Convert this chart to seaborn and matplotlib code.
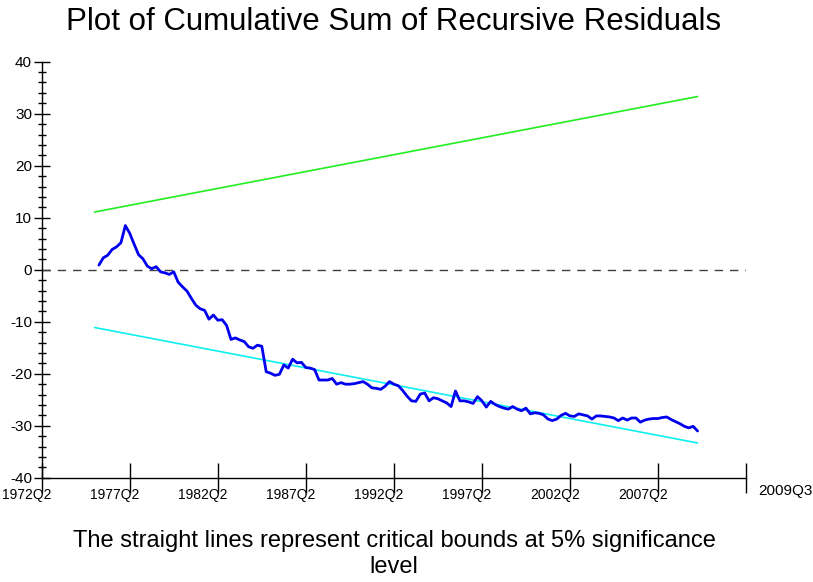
import matplotlib
matplotlib.use("Agg")
import matplotlib.pyplot as plt
import matplotlib.transforms as mtransforms
from matplotlib.ticker import MultipleLocator
import seaborn as sns
import pandas as pd

# -----------------------------
# Data (x = quarters counted from 1972Q2)
# -----------------------------
first_q = 13  # 1975Q3
last_q = 149  # 2009Q3
cusum = [
    0.9, 2.3, 2.8, 3.9, 4.4, 5.2, 8.5, 7.0, 4.9, 2.9,
    2.1, 0.7, 0.2, 0.6, -0.4, -0.6, -0.9, -0.4, -2.4, -3.3,
    -4.1, -5.5, -6.8, -7.5, -7.8, -9.5, -8.7, -9.7, -9.6, -10.7,
    -13.4, -13.1, -13.5, -13.8, -14.8, -15.1, -14.5, -14.7, -19.6, -19.9,
    -20.3, -20.1, -18.3, -18.9, -17.2, -17.9, -17.8, -18.8, -18.9, -19.2,
    -21.2, -21.2, -21.2, -20.9, -22.0, -21.7, -22.0, -22.0, -21.9, -21.7,
    -21.5, -22.0, -22.7, -22.8, -23.0, -22.4, -21.5, -22.0, -22.3, -23.2,
    -24.3, -25.2, -25.3, -23.9, -23.7, -25.2, -24.6, -24.8, -25.2, -25.6,
    -26.3, -23.3, -25.2, -25.2, -25.4, -25.7, -24.4, -25.2, -26.4, -25.3,
    -25.9, -26.3, -26.6, -26.8, -26.3, -26.8, -27.1, -26.6, -27.7, -27.5,
    -27.6, -27.9, -28.7, -29.0, -28.7, -28.0, -27.6, -28.1, -28.2, -27.7,
    -27.9, -28.1, -28.7, -28.1, -28.1, -28.2, -28.3, -28.5, -29.0, -28.5,
    -28.9, -28.5, -28.5, -29.3, -28.9, -28.7, -28.6, -28.6, -28.4, -28.3,
    -28.8, -29.2, -29.6, -30.1, -30.4, -30.1, -31.0,
]
bound_q = [12, 149]
upper_bound = [11.1, 33.3]
lower_bound = [-11.1, -33.3]

tick_pos = [0, 20, 40, 60, 80, 100, 120, 140, 160]
tick_labels = ["1972Q2", "1977Q2", "1982Q2", "1987Q2", "1992Q2",
               "1997Q2", "2002Q2", "2007Q2", ""]
end_label = "2009Q3"

df = pd.DataFrame({"q": list(range(first_q, last_q + 1)), "cusum": cusum})
df_b = pd.DataFrame({"q": bound_q, "upper": upper_bound, "lower": lower_bound})

# -----------------------------
# Plot
# -----------------------------
sns.set_style("white")
plt.rcParams["font.family"] = ["Liberation Sans", "DejaVu Sans"]
plt.rcParams["axes.unicode_minus"] = False
for key in ["text.color", "xtick.color", "ytick.color", "axes.labelcolor"]:
    plt.rcParams[key] = "black"

fig = plt.figure(figsize=(8.13, 5.82), dpi=100)
ax = fig.add_axes([0.0513, 0.179, 0.8663, 0.715])

ax.axhline(0, color="#404040", lw=1.0, dashes=(6, 5))
sns.lineplot(data=df_b, x="q", y="upper", color="#22EE22", lw=1.2, ax=ax)
sns.lineplot(data=df_b, x="q", y="lower", color="#11EEEE", lw=1.2, ax=ax)
sns.lineplot(data=df, x="q", y="cusum", color="#0000EE", lw=2.0, ax=ax)

ax.set_xlim(0, 160)
ax.set_ylim(-40, 40)
ax.set_xlabel("")
ax.set_ylabel("")

for s in ["top", "right"]:
    ax.spines[s].set_visible(False)
for s in ["left", "bottom"]:
    ax.spines[s].set_color("black")
    ax.spines[s].set_linewidth(1.0)

ax.yaxis.set_major_locator(MultipleLocator(10))
ax.yaxis.set_minor_locator(MultipleLocator(2))
ax.tick_params(axis="y", which="major", direction="inout", length=12,
               width=1, pad=1, labelsize=11, left=True)
ax.tick_params(axis="y", which="minor", direction="inout", length=6,
               width=1, left=True)

ax.set_xticks(tick_pos)
ax.set_xticklabels(tick_labels)
ax.tick_params(axis="x", which="major", direction="inout", length=21,
               width=1, pad=-3, labelsize=10, bottom=True)
for lab in ax.get_xticklabels():
    lab.set_transform(lab.get_transform()
                      + mtransforms.ScaledTranslation(-0.15, 0, fig.dpi_scale_trans))

ax.annotate(end_label, xy=(160, -40), xycoords="data", xytext=(12, -13),
            textcoords="offset pixels", ha="left", va="center", fontsize=11)

fig.text(0.4846, 0.963, "Plot of Cumulative Sum of Recursive Residuals",
         ha="center", va="center", fontsize=22.5)
fig.text(0.4846, 0.048,
         "The straight lines represent critical bounds at 5% significance\nlevel",
         ha="center", va="center", fontsize=17, linespacing=1.2)

fig.savefig("out.png", dpi=100)
